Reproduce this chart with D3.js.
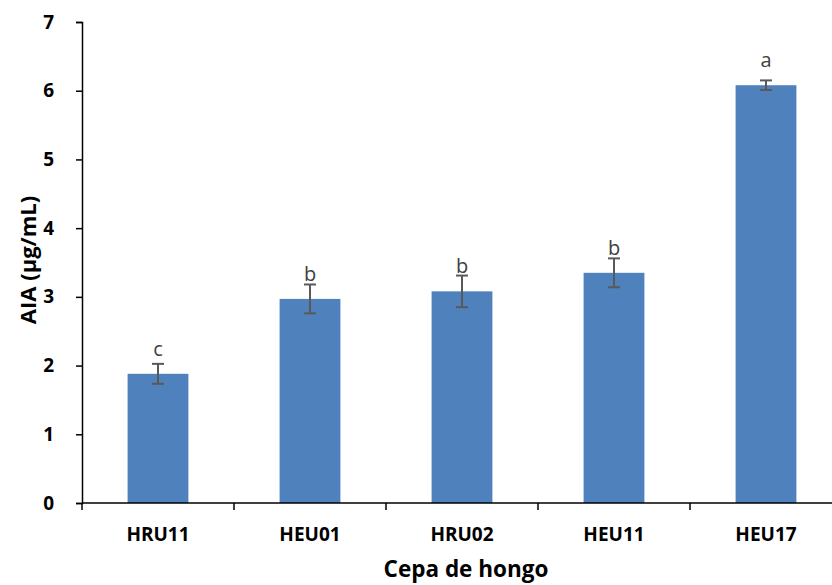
<!DOCTYPE html>
<html>
<head>
<meta charset="utf-8">
<script src="https://cdn.jsdelivr.net/npm/d3@7"></script>
<style>
  html, body { margin: 0; padding: 0; background: #fff; }
  svg { display: block; }
</style>
</head>
<body>
<svg id="chart" width="832" height="585"></svg>
<script>
// Indole-acetic acid (AIA) production per fungal strain
const categories = ["HRU11", "HEU01", "HRU02", "HEU11", "HEU17"];
const means = [1.88, 2.97, 3.08, 3.35, 6.08];
const errors = [0.145, 0.21, 0.23, 0.21, 0.07];
const groups = ["c", "b", "b", "b", "a"];
const yTicks = [0, 1, 2, 3, 4, 5, 6, 7];

const svg = d3.select("#chart");
const font = "'Open Sans', 'Liberation Sans', sans-serif";

const x = d3.scaleBand().domain(categories).range([82, 842]).paddingInner(0.6).paddingOuter(0.3);
const y = d3.scaleLinear().domain([0, 7]).range([503, 22]);

// bars
svg.append("g").selectAll("rect").data(categories).join("rect")
  .attr("x", d => x(d))
  .attr("width", x.bandwidth())
  .attr("y", (d, i) => y(means[i]))
  .attr("height", (d, i) => y(0) - y(means[i]))
  .attr("fill", "#4F81BD");

// error bars
const eb = svg.append("g").attr("stroke", "#595959").attr("stroke-width", 2);
categories.forEach((c, i) => {
  const cx = x(c) + x.bandwidth() / 2;
  const y1 = y(means[i] + errors[i]), y2 = y(means[i] - errors[i]);
  eb.append("line").attr("x1", cx).attr("x2", cx).attr("y1", y1).attr("y2", y2);
  eb.append("line").attr("x1", cx - 6).attr("x2", cx + 6).attr("y1", y1).attr("y2", y1);
  eb.append("line").attr("x1", cx - 6).attr("x2", cx + 6).attr("y1", y2).attr("y2", y2);
});

// significance letters above each bar
svg.append("g").selectAll("text").data(categories).join("text")
  .attr("x", d => x(d) + x.bandwidth() / 2)
  .attr("y", (d, i) => y(means[i]) - 18)
  .attr("text-anchor", "middle")
  .attr("font-family", font)
  .attr("font-size", 20)
  .attr("fill", "#404040")
  .text((d, i) => groups[i]);

// y axis
const yAxis = svg.append("g").attr("transform", "translate(82,0)")
  .call(d3.axisLeft(y).tickValues(yTicks).tickSize(6).tickPadding(22).tickFormat(d3.format("d")));
yAxis.select(".domain").attr("stroke", "#000").attr("stroke-width", 1.5);
yAxis.selectAll(".tick line").attr("stroke", "#000").attr("stroke-width", 1.5);
yAxis.selectAll("text").attr("font-family", font).attr("font-size", 19).attr("font-weight", "bold").attr("fill", "#000");

// x axis with ticks on category boundaries
const xAxisG = svg.append("g").attr("transform", "translate(0,503)");
xAxisG.append("line").attr("x1", 82).attr("x2", 842).attr("stroke", "#000").attr("stroke-width", 1.5);
const step = x.step();
const bounds = d3.range(categories.length + 1).map(i => 82 + i * step);
xAxisG.selectAll("line.b").data(bounds).join("line").attr("class", "b")
  .attr("x1", d => d).attr("x2", d => d).attr("y1", 0).attr("y2", 7)
  .attr("stroke", "#000").attr("stroke-width", 1.5);
xAxisG.selectAll("text").data(categories).join("text")
  .attr("x", d => x(d) + x.bandwidth() / 2)
  .attr("y", 38)
  .attr("text-anchor", "middle")
  .attr("font-family", font).attr("font-size", 19).attr("font-weight", "bold").attr("fill", "#000")
  .text(d => d);

// axis titles
svg.append("text")
  .attr("x", 466).attr("y", 577)
  .attr("text-anchor", "middle")
  .attr("font-family", font).attr("font-size", 22.5).attr("font-weight", "bold")
  .text("Cepa de hongo");

svg.append("text")
  .attr("transform", "translate(36,260) rotate(-90)")
  .attr("text-anchor", "middle")
  .attr("font-family", font).attr("font-size", 22).attr("font-weight", "bold")
  .text("AIA (µg/mL)");
</script>
</body>
</html>
